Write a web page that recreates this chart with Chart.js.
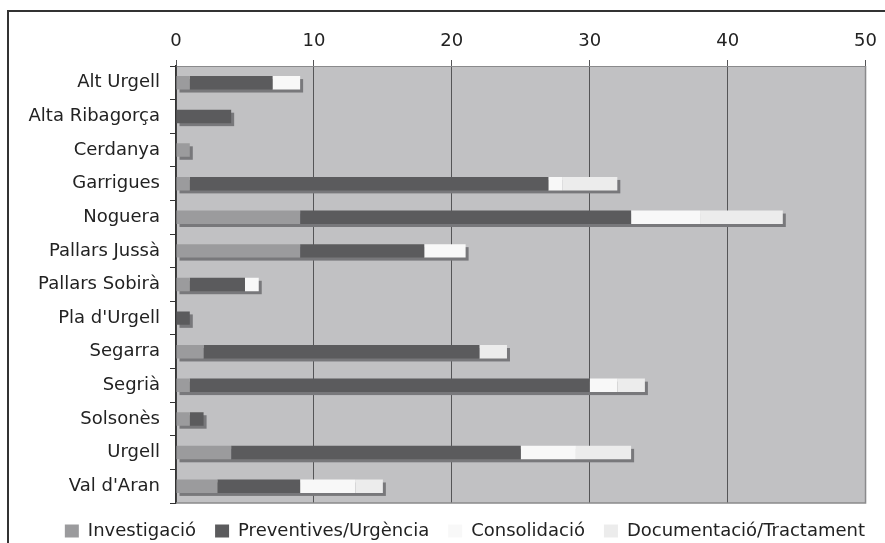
<!DOCTYPE html>
<html>
<head>
<meta charset="utf-8">
<script src="https://cdn.jsdelivr.net/npm/chart.js@4.4.1/dist/chart.umd.min.js"></script>
<style>
  html, body { margin: 0; padding: 0; background: #fff; overflow: hidden; }
  #wrap { position: relative; width: 885px; height: 543px; overflow: hidden; }
  #frame {
    position: absolute; left: 7px; top: 10px; right: 0; bottom: 0;
    border-left: 2px solid #333; border-top: 2px solid #333;
    pointer-events: none;
  }
</style>
</head>
<body>
<div id="wrap">
  <canvas id="chart" width="885" height="550"></canvas>
  <div id="frame"></div>
</div>
<script>
const comarques = ['Alt Urgell', 'Alta Ribagorça', 'Cerdanya', 'Garrigues', 'Noguera',
  'Pallars Jussà', 'Pallars Sobirà', "Pla d'Urgell", 'Segarra', 'Segrià',
  'Solsonès', 'Urgell', "Val d'Aran"];

const investigacio = [1, 0, 1, 1, 9, 9, 1, 0, 2, 1, 1, 4, 3];
const preventives = [6, 4, 0, 26, 24, 9, 4, 1, 20, 29, 1, 21, 6];
const consolidacio = [2, 0, 0, 1, 5, 3, 1, 0, 0, 2, 0, 4, 4];
const documentacio = [0, 0, 0, 4, 6, 0, 0, 0, 2, 2, 0, 4, 2];

const xTicks = [0, 10, 20, 30, 40, 50];

// plot background, drop shadow behind each stacked bar, plot border
const plotDeco = {
  id: 'plotDeco',
  afterLayout(chart) {
    // push the legend row a bit to the right, like the original
    chart.legend.right += 16;
  },
  beforeDraw(chart) {
    const { ctx, chartArea: a } = chart;
    ctx.save();
    ctx.fillStyle = '#c1c1c3';
    ctx.fillRect(a.left, a.top, a.right - a.left, a.bottom - a.top);
    ctx.restore();
  },
  beforeDatasetsDraw(chart) {
    const ctx = chart.ctx;
    const metas = chart.getSortedVisibleDatasetMetas();
    ctx.save();
    ctx.fillStyle = '#78787b';
    comarques.forEach((c, i) => {
      let left = Infinity, right = -Infinity, top = 0, h = 0;
      metas.forEach(m => {
        const el = m.data[i];
        if (!el) return;
        const p = el.getProps(['x', 'y', 'base', 'height'], true);
        if (Math.abs(p.x - p.base) < 0.5) return;
        left = Math.min(left, p.base, p.x);
        right = Math.max(right, p.base, p.x);
        top = p.y - p.height / 2;
        h = p.height;
      });
      if (right > left) ctx.fillRect(left + 3, top + 3, right - left, h);
    });
    ctx.restore();
  },
  afterDraw(chart) {
    const { ctx, chartArea: a } = chart;
    ctx.save();
    ctx.strokeStyle = '#8a8a8c';
    ctx.lineWidth = 1.5;
    ctx.beginPath();
    ctx.moveTo(a.left, a.bottom);
    ctx.lineTo(a.right, a.bottom);
    ctx.lineTo(a.right, a.top);
    ctx.stroke();
    ctx.restore();
  }
};

new Chart(document.getElementById('chart'), {
  type: 'bar',
  data: {
    labels: comarques,
    datasets: [
      { label: 'Investigació', data: investigacio, backgroundColor: '#9b9b9d' },
      { label: 'Preventives/Urgència', data: preventives, backgroundColor: '#5b5b5d' },
      { label: 'Consolidació', data: consolidacio, backgroundColor: '#f8f8f8' },
      { label: 'Documentació/Tractament', data: documentacio, backgroundColor: '#ececec' }
    ]
  },
  options: {
    indexAxis: 'y',
    responsive: false,
    animation: false,
    devicePixelRatio: 1,
    layout: { padding: { top: 0, right: 17, bottom: 0, left: 0 } },
    datasets: {
      bar: { categoryPercentage: 1, barPercentage: 0.4, borderWidth: 0 }
    },
    scales: {
      x: {
        position: 'top',
        stacked: true,
        min: 0,
        max: 50,
        afterBuildTicks(scale) { scale.ticks = xTicks.map(v => ({ value: v })); },
        afterFit(scale) { scale.height = 66; },
        grid: { color: '#555557', lineWidth: 1, tickLength: 6 },
        border: { color: '#8a8a8c', width: 1 },
        ticks: { color: '#222', padding: 8, font: { family: 'DejaVu Sans', size: 18 } }
      },
      y: {
        stacked: true,
        afterFit(scale) { scale.width = 176; },
        grid: { drawOnChartArea: false, color: '#333', tickLength: 6 },
        border: { color: '#333', width: 1.5 },
        ticks: { color: '#222', padding: 10, font: { family: 'DejaVu Sans', size: 18 } }
      }
    },
    plugins: {
      legend: {
        position: 'bottom',
        align: 'end',
        labels: {
          color: '#222',
          boxWidth: 14,
          boxHeight: 13,
          padding: 19,
          font: { family: 'DejaVu Sans', size: 18 }
        }
      },
      tooltip: { enabled: false }
    }
  },
  plugins: [plotDeco]
});
</script>
</body>
</html>
